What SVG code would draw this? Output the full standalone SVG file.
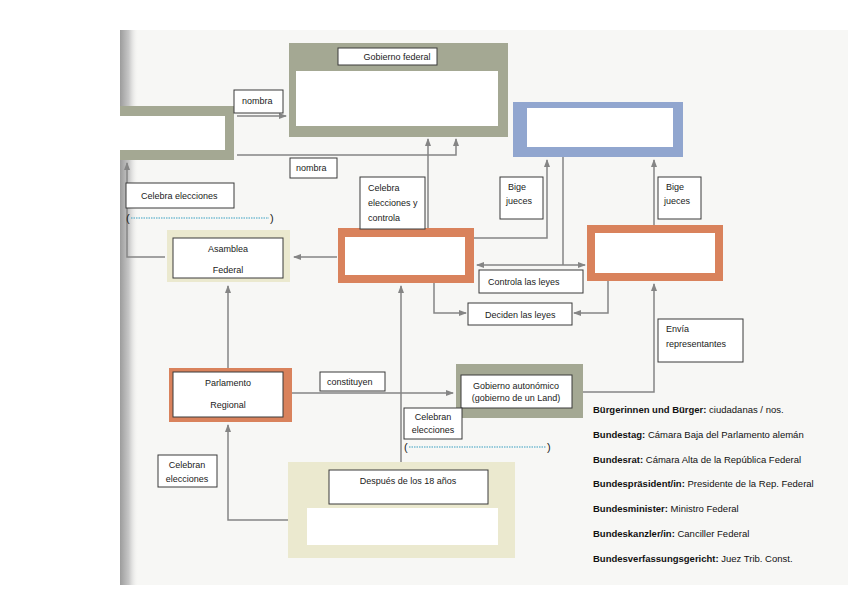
<svg xmlns="http://www.w3.org/2000/svg" width="848" height="599" viewBox="0 0 848 599">
<defs>
<linearGradient id="shadow" x1="0" y1="0" x2="1" y2="0">
<stop offset="0" stop-color="#9c9c9c"/>
<stop offset="0.5" stop-color="#c8c8c8"/>
<stop offset="1" stop-color="#f2f2f0" stop-opacity="0"/>
</linearGradient>
<marker id="ah" markerWidth="8" markerHeight="6" refX="7" refY="3" orient="auto" markerUnits="userSpaceOnUse">
<path d="M0,0 L8,3 L0,6 Z" fill="#858585"/>
</marker>
<marker id="ahs" markerWidth="8" markerHeight="6" refX="1" refY="3" orient="auto" markerUnits="userSpaceOnUse">
<path d="M8,0 L0,3 L8,6 Z" fill="#858585"/>
</marker>
</defs>
<style>
.page{fill:#f7f7f5}
.green{fill:#a4a893}
.blue{fill:#91a6cf}
.orange{fill:#d9825c}
.yellow{fill:#ebe9cf}
.hole{fill:#ffffff}
.lbl{fill:#ffffff;stroke:#3a3a3a;stroke-width:1}
.t{font-family:"Liberation Sans",Arial,sans-serif;font-size:9px;fill:#1a1a1a}
.c{text-anchor:middle}
.con{fill:none;stroke:#858585;stroke-width:1.5}
.dot{fill:none;stroke:#3b9fc2;stroke-width:1.2;stroke-dasharray:1.5 1}
.par{font-family:"Liberation Sans",Arial,sans-serif;font-size:11px;fill:#222}
.lg{font-family:"Liberation Sans",Arial,sans-serif;font-size:9.5px;fill:#111}
.lg .b{font-weight:bold}
</style>
<rect x="0" y="0" width="848" height="599" fill="#ffffff"/>
<rect class="page" x="120" y="30" width="728" height="555"/>
<rect x="120" y="30" width="18" height="555" fill="url(#shadow)"/>

<g id="connectors">
<path class="con" d="M237,116 H286" marker-end="url(#ah)"/>
<path class="con" d="M237,155 H456 V139" marker-end="url(#ah)"/>
<path class="con" d="M428,228 V139" marker-end="url(#ah)"/>
<path class="con" d="M165,257 H127 V163" marker-end="url(#ah)"/>
<path class="con" d="M337,257 H294" marker-end="url(#ah)"/>
<path class="con" d="M228,368 V286" marker-end="url(#ah)"/>
<path class="con" d="M288,520 H228 V425" marker-end="url(#ah)"/>
<path class="con" d="M401,462 V286" marker-end="url(#ah)"/>
<path class="con" d="M292,393 H453" marker-end="url(#ah)"/>
<path class="con" d="M583,392 H654 V284" marker-end="url(#ah)"/>
<path class="con" d="M474,238 H547 V160" marker-end="url(#ah)"/>
<path class="con" d="M654,225 V160" marker-end="url(#ah)"/>
<path class="con" d="M563,157 V265"/>
<path class="con" d="M477,265 H585" marker-start="url(#ahs)" marker-end="url(#ah)"/>
<path class="con" d="M434,283 V313 H466" marker-end="url(#ah)"/>
<path class="con" d="M608,281 V313 H574" marker-end="url(#ah)"/>
</g>

<g id="bundespraesident">
<rect class="green" x="120" y="106" width="114" height="54"/>
<rect class="hole" x="120" y="116" width="105" height="34"/>
</g>

<g id="gobierno-federal">
<rect class="green" x="289" y="43" width="219" height="94"/>
<rect class="hole" x="296" y="71" width="202" height="55"/>
<rect class="lbl" x="338" y="48" width="99" height="17"/>
<text class="t c" x="397" y="60">Gobierno federal</text>
</g>

<g id="verfassungsgericht">
<rect class="blue" x="513" y="102" width="170" height="55"/>
<rect class="hole" x="527" y="108" width="146" height="39"/>
</g>

<g id="bundestag">
<rect class="orange" x="338" y="228" width="136" height="55"/>
<rect class="hole" x="345" y="237" width="120" height="38"/>
</g>

<g id="bundesrat">
<rect class="orange" x="587" y="225" width="136" height="56"/>
<rect class="hole" x="595" y="233" width="120" height="40"/>
</g>

<g id="asamblea-federal">
<rect class="yellow" x="167" y="230" width="123" height="52"/>
<rect class="lbl" x="173" y="238" width="110" height="40"/>
<text class="t c" x="228" y="252">Asamblea</text>
<text class="t c" x="228" y="273">Federal</text>
</g>

<g id="parlamento-regional">
<rect class="orange" x="169" y="368" width="123" height="54"/>
<rect class="lbl" x="173" y="372" width="110" height="45"/>
<text class="t c" x="228" y="386">Parlamento</text>
<text class="t c" x="228" y="408">Regional</text>
</g>

<g id="gobierno-autonomico">
<rect class="green" x="456" y="364" width="127" height="54"/>
<rect class="lbl" x="461" y="375" width="111" height="33"/>
<text class="t c" x="516" y="389">Gobierno autonómico</text>
<text class="t c" x="516" y="401">(gobierno de un Land)</text>
</g>

<g id="buerger">
<rect class="yellow" x="288" y="462" width="227" height="96"/>
<rect class="hole" x="307" y="508" width="191" height="37"/>
<rect class="lbl" x="329" y="470" width="159" height="34"/>
<text class="t c" x="408" y="484">Después de los 18 años</text>
</g>

<g id="labels">
<rect class="lbl" x="234" y="90" width="49" height="23"/>
<text class="t" x="242" y="104">nombra</text>
<rect class="lbl" x="290" y="158" width="47" height="20"/>
<text class="t" x="296" y="171">nombra</text>
<rect class="lbl" x="126" y="183" width="108" height="25"/>
<text class="t" x="141" y="199">Celebra elecciones</text>
<text class="par" x="126" y="222">(</text>
<path class="dot" d="M131,218 H269"/>
<text class="par" x="270" y="222">)</text>
<rect class="lbl" x="360" y="177" width="65" height="52"/>
<text class="t" x="368" y="191">Celebra</text>
<text class="t" x="368" y="206">elecciones y</text>
<text class="t" x="368" y="221">controla</text>
<rect class="lbl" x="500" y="177" width="43" height="42"/>
<text class="t" x="508" y="190">Bige</text>
<text class="t" x="506" y="204">jueces</text>
<rect class="lbl" x="658" y="177" width="43" height="42"/>
<text class="t" x="666" y="190">Bige</text>
<text class="t" x="664" y="204">jueces</text>
<rect class="lbl" x="479" y="270" width="104" height="23"/>
<text class="t" x="488" y="285">Controla las leyes</text>
<rect class="lbl" x="468" y="303" width="104" height="22"/>
<text class="t" x="485" y="318">Deciden las leyes</text>
<rect class="lbl" x="658" y="319" width="85" height="43"/>
<text class="t" x="666" y="332">Envía</text>
<text class="t" x="666" y="347">representantes</text>
<rect class="lbl" x="320" y="372" width="65" height="19"/>
<text class="t" x="327" y="385">constituyen</text>
<rect class="lbl" x="404" y="408" width="58" height="31"/>
<text class="t c" x="433" y="420">Celebran</text>
<text class="t c" x="433" y="433">elecciones</text>
<text class="par" x="404" y="451">(</text>
<path class="dot" d="M409,447 H546"/>
<text class="par" x="547" y="451">)</text>
<rect class="lbl" x="158" y="455" width="59" height="32"/>
<text class="t c" x="187" y="468">Celebran</text>
<text class="t c" x="187" y="482">elecciones</text>
</g>

<g id="legend">
<text class="lg" x="593" y="413"><tspan class="b">Bürgerinnen und Bürger:</tspan> ciudadanas / nos.</text>
<text class="lg" x="593" y="438"><tspan class="b">Bundestag:</tspan> Cámara Baja del Parlamento alemán</text>
<text class="lg" x="593" y="463"><tspan class="b">Bundesrat:</tspan> Cámara Alta de la República Federal</text>
<text class="lg" x="593" y="487"><tspan class="b">Bundespräsident/in:</tspan> Presidente de la Rep. Federal</text>
<text class="lg" x="593" y="512"><tspan class="b">Bundesminister:</tspan> Ministro Federal</text>
<text class="lg" x="593" y="537"><tspan class="b">Bundeskanzler/in:</tspan> Canciller Federal</text>
<text class="lg" x="593" y="562"><tspan class="b">Bundesverfassungsgericht:</tspan> Juez Trib. Const.</text>
</g>
</svg>
